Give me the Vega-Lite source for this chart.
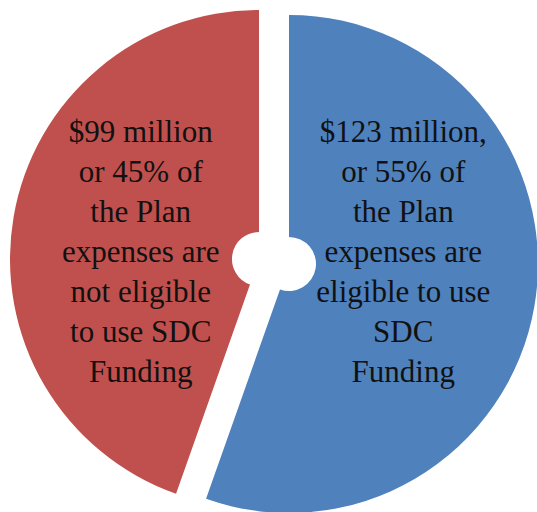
{
  "$schema": "https://vega.github.io/schema/vega-lite/v6.json",
  "width": 537,
  "height": 512,
  "padding": 0,
  "autosize": {"type": "none"},
  "background": "white",
  "config": {"view": {"stroke": null}},
  "data": {
    "values": [
      {"label": "eligible", "value": 123, "text": "$123 million,\nor 55% of\nthe Plan\nexpenses are\neligible to use\nSDC\nFunding"},
      {"label": "not eligible", "value": 99, "text": "$99 million\nor 45% of\nthe Plan\nexpenses are\nnot eligible\nto use SDC\nFunding"}
    ]
  },
  "encoding": {
    "theta": {"field": "value", "type": "quantitative", "stack": true},
    "order": {"field": "label", "sort": "ascending"}
  },
  "layer": [
    {
      "mark": {"type": "arc", "outerRadius": 249, "innerRadius": 27, "xOffset": 20.5, "yOffset": 8},
      "encoding": {
        "color": {"field": "label", "type": "nominal", "scale": {"domain": ["eligible", "not eligible"], "range": ["#4F81BD", "#C0504D"]}, "legend": null},
        "opacity": {"condition": {"test": "datum.label == 'eligible'", "value": 1}, "value": 0}
      }
    },
    {
      "mark": {"type": "arc", "outerRadius": 249, "innerRadius": 27, "xOffset": -9.5, "yOffset": 3},
      "encoding": {
        "color": {"field": "label", "type": "nominal", "scale": {"domain": ["eligible", "not eligible"], "range": ["#4F81BD", "#C0504D"]}, "legend": null},
        "opacity": {"condition": {"test": "datum.label == 'not eligible'", "value": 1}, "value": 0}
      }
    },
    {
      "mark": {"type": "text", "radius": 120, "xOffset": 20.5, "yOffset": 8, "dy": -151, "dx": -4, "lineBreak": "\n", "lineHeight": 40, "font": "Liberation Serif", "fontSize": 31, "baseline": "middle", "align": "center", "color": "#111111"},
      "encoding": {
        "text": {"field": "text"},
        "opacity": {"condition": {"test": "datum.label == 'eligible'", "value": 1}, "value": 0}
      }
    },
    {
      "mark": {"type": "text", "radius": 120, "xOffset": -9.5, "yOffset": 3, "dy": -106, "dx": 0, "lineBreak": "\n", "lineHeight": 40, "font": "Liberation Serif", "fontSize": 31, "baseline": "middle", "align": "center", "color": "#111111"},
      "encoding": {
        "text": {"field": "text"},
        "opacity": {"condition": {"test": "datum.label == 'not eligible'", "value": 1}, "value": 0}
      }
    }
  ]
}
